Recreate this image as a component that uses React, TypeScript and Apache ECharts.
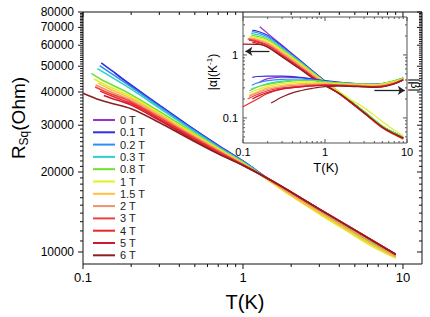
import React, { useEffect, useRef } from 'react';
import * as echarts from 'echarts';

const FIELDS = ['0 T', '0.1 T', '0.2 T', '0.3 T', '0.8 T', '1 T', '1.5 T', '2 T', '3 T', '4 T', '5 T', '6 T'];
const COLORS = ['#9b30d0', '#3030e0', '#2e8ff0', '#30d0c8', '#70e030', '#e0f020', '#ffc040', '#f09070', '#f04040', '#e82828', '#d01830', '#8b2020'];

// Main panel: sheet resistance R (Ohm) vs T (K), pairs [T, R]
const R_0T = [[0.158, 47200], [0.2, 42300], [0.3, 35600], [0.45, 30000], [0.7, 25200], [1, 21950], [1.5, 18500], [2, 16580], [3, 14280], [4.5, 12320], [6.5, 10770], [9, 9560]];
const R_01T = [[0.13, 51500], [0.15, 48300], [0.2, 42500], [0.3, 35700], [0.45, 30100], [0.7, 25200], [1, 22000], [1.5, 18520], [2, 16600], [3, 14300], [4.5, 12350], [6.5, 10800], [9, 9620]];
const R_02T = [[0.127, 50300], [0.15, 47000], [0.2, 41800], [0.3, 35300], [0.45, 29800], [0.7, 25000], [1, 21900], [1.5, 18500], [2, 16600], [3, 14300], [4.5, 12340], [6.5, 10800], [9, 9620]];
const R_03T = [[0.123, 49000], [0.15, 45600], [0.2, 41000], [0.3, 34800], [0.45, 29500], [0.7, 24800], [1, 21800], [1.5, 18480], [2, 16580], [3, 14280], [4.5, 12330], [6.5, 10790], [9, 9610]];
const R_08T = [[0.113, 47000], [0.13, 44600], [0.15, 42700], [0.2, 39100], [0.3, 33800], [0.45, 29000], [0.7, 24600], [1, 21700], [1.5, 18450], [2, 16500], [3, 14200], [4.5, 12250], [6.5, 10750], [9, 9600]];
const R_1T = [[0.117, 44800], [0.15, 41600], [0.2, 38400], [0.3, 33300], [0.45, 28700], [0.7, 24500], [1, 21600], [1.5, 18300], [2, 16250], [3, 13900], [4.5, 11950], [6.5, 10450], [9, 9480]];
const R_15T = [[0.124, 43200], [0.15, 40800], [0.2, 37800], [0.3, 32900], [0.45, 28400], [0.7, 24300], [1, 21500], [1.5, 18350], [2, 16350], [3, 14050], [4.5, 12100], [6.5, 10600], [9, 9550]];
const R_2T = [[0.12, 42500], [0.15, 40000], [0.2, 37200], [0.3, 32500], [0.45, 28100], [0.7, 24100], [1, 21400], [1.5, 18450], [2, 16550], [3, 14300], [4.5, 12350], [6.5, 10850], [9, 9650]];
const R_3T = [[0.119, 41800], [0.15, 39300], [0.2, 36700], [0.3, 32100], [0.45, 27800], [0.7, 23900], [1, 21300], [1.5, 18600], [2, 16800], [3, 14500], [4.5, 12550], [6.5, 11000], [9, 9780]];
const R_4T = [[0.128, 40300], [0.15, 38700], [0.2, 36200], [0.3, 31700], [0.45, 27500], [0.7, 23700], [1, 21250], [1.5, 18620], [2, 16820], [3, 14520], [4.5, 12570], [6.5, 11020], [9, 9800]];
const R_5T = [[0.135, 38800], [0.15, 37900], [0.2, 35700], [0.3, 31300], [0.45, 27200], [0.7, 23500], [1, 21200], [1.5, 18600], [2, 16800], [3, 14500], [4.5, 12560], [6.5, 11010], [9, 9790]];
const R_6T = [[0.1, 39600], [0.128, 37300], [0.15, 36300], [0.2, 34600], [0.3, 30700], [0.45, 26900], [0.7, 23400], [1, 21150], [1.5, 18580], [2, 16780], [3, 14480], [4.5, 12540], [6.5, 11000], [9, 9800]];
const MAIN = [R_0T, R_01T, R_02T, R_03T, R_08T, R_1T, R_15T, R_2T, R_3T, R_4T, R_5T, R_6T];

// Inset: |alpha| (K^-1) vs T, pairs [T, alpha]
const A_0T = [[0.16, 2.8], [0.2, 2.2], [0.3, 1.42], [0.5, 0.82], [0.7, 0.56], [1, 0.385], [1.5, 0.255], [2, 0.19], [3, 0.125], [5, 0.073], [7, 0.057], [9, 0.048]];
const A_01T = [[0.13, 2.45], [0.15, 2.38], [0.2, 2.05], [0.3, 1.38], [0.5, 0.81], [0.7, 0.56], [1, 0.385], [1.5, 0.255], [2, 0.19], [3, 0.125], [5, 0.073], [7, 0.058], [9, 0.049]];
const A_02T = [[0.128, 2.35], [0.15, 2.25], [0.2, 1.95], [0.3, 1.33], [0.5, 0.79], [0.7, 0.55], [1, 0.38], [1.5, 0.253], [2, 0.19], [3, 0.125], [5, 0.073], [7, 0.058], [9, 0.049]];
const A_03T = [[0.125, 2.2], [0.15, 2.1], [0.2, 1.85], [0.3, 1.28], [0.5, 0.77], [0.7, 0.54], [1, 0.375], [1.5, 0.252], [2, 0.19], [3, 0.126], [5, 0.074], [7, 0.058], [9, 0.049]];
const A_08T = [[0.126, 2.04], [0.15, 1.97], [0.2, 1.75], [0.3, 1.22], [0.5, 0.75], [0.7, 0.53], [1, 0.37], [1.5, 0.25], [2, 0.19], [3, 0.128], [5, 0.075], [7, 0.058], [9, 0.049]];
const A_1T = [[0.12, 1.95], [0.15, 1.88], [0.2, 1.67], [0.3, 1.18], [0.5, 0.73], [0.7, 0.52], [1, 0.37], [1.5, 0.26], [2, 0.2], [3, 0.145], [5, 0.088], [7, 0.064], [9, 0.052]];
const A_15T = [[0.12, 1.86], [0.15, 1.78], [0.2, 1.58], [0.3, 1.12], [0.5, 0.7], [0.7, 0.5], [1, 0.36], [1.5, 0.245], [2, 0.183], [3, 0.12], [5, 0.07], [7, 0.055], [9, 0.046]];
const A_2T = [[0.118, 1.82], [0.15, 1.72], [0.2, 1.52], [0.3, 1.07], [0.5, 0.67], [0.7, 0.48], [1, 0.35], [1.5, 0.24], [2, 0.18], [3, 0.118], [5, 0.069], [7, 0.054], [9, 0.046]];
const A_3T = [[0.114, 1.8], [0.15, 1.66], [0.2, 1.45], [0.3, 1.02], [0.5, 0.64], [0.7, 0.46], [1, 0.34], [1.5, 0.24], [2, 0.18], [3, 0.119], [5, 0.07], [7, 0.055], [9, 0.047]];
const A_4T = [[0.118, 1.72], [0.15, 1.6], [0.2, 1.4], [0.3, 0.98], [0.5, 0.62], [0.7, 0.45], [1, 0.335], [1.5, 0.24], [2, 0.181], [3, 0.12], [5, 0.071], [7, 0.055], [9, 0.047]];
const A_5T = [[0.13, 1.58], [0.15, 1.52], [0.2, 1.34], [0.3, 0.95], [0.5, 0.6], [0.7, 0.44], [1, 0.33], [1.5, 0.242], [2, 0.183], [3, 0.121], [5, 0.071], [7, 0.056], [9, 0.048]];
const A_6T = [[0.1, 1.48], [0.15, 1.47], [0.17, 1.45], [0.2, 1.32], [0.3, 0.93], [0.5, 0.59], [0.7, 0.43], [1, 0.325], [1.5, 0.245], [2, 0.185], [3, 0.122], [5, 0.072], [7, 0.056], [9, 0.048]];
const ALPHA = [A_0T, A_01T, A_02T, A_03T, A_08T, A_1T, A_15T, A_2T, A_3T, A_4T, A_5T, A_6T];

// Inset: |beta| vs T, pairs [T, beta]
const B_0T = [[0.16, 0.37], [0.2, 0.42], [0.3, 0.445], [0.5, 0.435], [0.7, 0.41], [1, 0.385], [1.5, 0.365], [2, 0.355], [3, 0.345], [4, 0.342], [5, 0.35], [7, 0.385], [9, 0.43]];
const B_01T = [[0.13, 0.44], [0.15, 0.455], [0.2, 0.46], [0.3, 0.46], [0.5, 0.44], [0.7, 0.415], [1, 0.39], [1.5, 0.37], [2, 0.358], [3, 0.347], [4, 0.343], [5, 0.35], [7, 0.385], [9, 0.43]];
const B_02T = [[0.128, 0.33], [0.15, 0.36], [0.2, 0.39], [0.3, 0.41], [0.5, 0.415], [0.7, 0.4], [1, 0.38], [1.5, 0.36], [2, 0.352], [3, 0.343], [4, 0.34], [5, 0.348], [7, 0.38], [9, 0.425]];
const B_03T = [[0.12, 0.27], [0.15, 0.31], [0.2, 0.35], [0.3, 0.385], [0.5, 0.4], [0.7, 0.395], [1, 0.378], [1.5, 0.36], [2, 0.352], [3, 0.344], [4, 0.341], [5, 0.349], [7, 0.385], [9, 0.43]];
const B_08T = [[0.126, 0.29], [0.15, 0.31], [0.2, 0.34], [0.3, 0.37], [0.5, 0.39], [0.7, 0.39], [1, 0.375], [1.5, 0.36], [2, 0.353], [3, 0.345], [4, 0.342], [5, 0.35], [7, 0.39], [9, 0.435]];
const B_1T = [[0.12, 0.25], [0.15, 0.28], [0.2, 0.32], [0.3, 0.35], [0.5, 0.37], [0.7, 0.37], [1, 0.36], [1.5, 0.35], [2, 0.345], [3, 0.34], [4, 0.338], [5, 0.345], [7, 0.38], [9, 0.42]];
const B_15T = [[0.12, 0.23], [0.15, 0.26], [0.2, 0.3], [0.3, 0.33], [0.5, 0.35], [0.7, 0.355], [1, 0.35], [1.5, 0.34], [2, 0.335], [3, 0.33], [4, 0.33], [5, 0.335], [7, 0.37], [9, 0.415]];
const B_2T = [[0.118, 0.22], [0.15, 0.25], [0.2, 0.285], [0.3, 0.315], [0.5, 0.335], [0.7, 0.34], [1, 0.34], [1.5, 0.335], [2, 0.33], [3, 0.325], [4, 0.32], [5, 0.325], [7, 0.36], [9, 0.41]];
const B_3T = [[0.114, 0.2], [0.15, 0.235], [0.2, 0.27], [0.3, 0.3], [0.5, 0.32], [0.7, 0.33], [1, 0.335], [1.5, 0.33], [2, 0.325], [3, 0.318], [4, 0.315], [5, 0.32], [7, 0.355], [9, 0.405]];
const B_4T = [[0.1, 0.15], [0.15, 0.2], [0.2, 0.245], [0.3, 0.285], [0.5, 0.31], [0.7, 0.322], [1, 0.33], [1.5, 0.328], [2, 0.322], [3, 0.315], [4, 0.31], [5, 0.315], [7, 0.35], [9, 0.4]];
const B_5T = [[0.13, 0.2], [0.15, 0.22], [0.2, 0.255], [0.3, 0.29], [0.5, 0.312], [0.7, 0.322], [1, 0.33], [1.5, 0.327], [2, 0.321], [3, 0.314], [4, 0.31], [5, 0.316], [7, 0.352], [9, 0.402]];
const B_6T = [[0.22, 0.172], [0.3, 0.215], [0.4, 0.25], [0.5, 0.27], [0.7, 0.295], [1, 0.315], [1.5, 0.32], [2, 0.318], [3, 0.31], [4, 0.305], [5, 0.31], [7, 0.345], [9, 0.4]];
const BETA = [B_0T, B_01T, B_02T, B_03T, B_08T, B_1T, B_15T, B_2T, B_3T, B_4T, B_5T, B_6T];

// Arrows in inset, pairs [T, value]
const ARROW_ALPHA = [[0.21, 1.14], [0.107, 1.14]];
const ARROW_BETA = [[4.0, 0.273], [9.4, 0.273]];

// Tick values and labels
const MAIN_X_MAJOR = [0.1, 1, 10];
const MAIN_X_LABELS = ['0.1', '1', '10'];
const MAIN_X_MINOR = [0.2, 0.3, 0.4, 0.5, 0.6, 0.7, 0.8, 0.9, 2, 3, 4, 5, 6, 7, 8, 9];
const MAIN_Y_MAJOR = [10000, 20000, 30000, 40000, 50000, 60000, 70000, 80000];
const MAIN_Y_LABELS = ['10000', '20000', '30000', '40000', '50000', '60000', '70000', '80000'];
const MAIN_Y_MINOR: number[] = [];
for (let v = 11000; v < 80000; v += 1000) if (v % 10000 !== 0) MAIN_Y_MINOR.push(v);
const INSET_X_MAJOR = [0.1, 1, 10];
const INSET_X_LABELS = ['0.1', '1', '10'];
const INSET_X_MINOR = [0.2, 0.3, 0.4, 0.5, 0.6, 0.7, 0.8, 0.9, 2, 3, 4, 5, 6, 7, 8, 9];
const INSET_Y_MAJOR = [0.1, 1];
const INSET_Y_LABELS = ['0.1', '1'];
const INSET_Y_MINOR = [0.05, 0.06, 0.07, 0.08, 0.09, 0.2, 0.3, 0.4, 0.5, 0.6, 0.7, 0.8, 0.9, 2, 3];

const FONT = '"Liberation Sans", Arial, Helvetica, sans-serif';

type TickCfg = { maj: number; min: number; outPrimary: boolean; gap: number; fontSize: number; color: string };

function tickSeries(xi: number, yi: number, axis: 'x' | 'y', major: number[], labels: string[], minor: number[], ref: number, cfg: TickCfg) {
  const data = [
    ...major.map((v, i) => (axis === 'x' ? [v, ref, i] : [ref, v, i])),
    ...minor.map((v) => (axis === 'x' ? [v, ref, -1] : [ref, v, -1])),
  ];
  return {
    type: 'custom',
    xAxisIndex: xi,
    yAxisIndex: yi,
    silent: true,
    z: 6,
    data,
    renderItem: (params: any, api: any) => {
      const cs = params.coordSys;
      const li = api.value(2);
      const isMaj = li >= 0;
      const len = isMaj ? cfg.maj : cfg.min;
      const ln = (x1: number, y1: number, x2: number, y2: number) => ({
        type: 'line',
        shape: { x1, y1, x2, y2 },
        style: { stroke: cfg.color, lineWidth: 1 },
      });
      const children: any[] = [];
      if (axis === 'x') {
        const px = api.coord([api.value(0), api.value(1)])[0];
        const b = cs.y + cs.height;
        const t = cs.y;
        children.push(ln(px, b, px, cfg.outPrimary ? b + len : b - len));
        children.push(ln(px, t, px, t + len));
        if (isMaj) {
          children.push({
            type: 'text',
            x: px,
            y: b + cfg.gap,
            style: { text: labels[li], fill: '#000', fontSize: cfg.fontSize, fontFamily: FONT, align: 'center', verticalAlign: 'top' },
          });
        }
      } else {
        const py = api.coord([api.value(0), api.value(1)])[1];
        const l = cs.x;
        const r = cs.x + cs.width;
        children.push(ln(l, py, cfg.outPrimary ? l - len : l + len, py));
        children.push(ln(r, py, r - len, py));
        if (isMaj) {
          children.push({
            type: 'text',
            x: l - cfg.gap,
            y: py,
            style: { text: labels[li], fill: '#000', fontSize: cfg.fontSize, fontFamily: FONT, align: 'right', verticalAlign: 'middle' },
          });
        }
      }
      return { type: 'group', children };
    },
  };
}

function buildOption() {
  const mainSeries = MAIN.map((d, i) => ({
    name: FIELDS[i],
    type: 'line',
    xAxisIndex: 0,
    yAxisIndex: 0,
    data: d,
    symbol: 'none',
    smooth: 0.35,
    lineStyle: { color: COLORS[i], width: 1.6 },
    itemStyle: { color: COLORS[i] },
    z: 3,
  }));
  const alphaSeries = ALPHA.map((d, i) => ({
    name: FIELDS[i],
    type: 'line',
    xAxisIndex: 1,
    yAxisIndex: 1,
    data: d,
    symbol: 'none',
    smooth: 0.35,
    lineStyle: { color: COLORS[i], width: 1.2 },
    itemStyle: { color: COLORS[i] },
    z: 4,
  }));
  const betaSeries = BETA.map((d, i) => ({
    name: FIELDS[i],
    type: 'line',
    xAxisIndex: 1,
    yAxisIndex: 1,
    data: d,
    symbol: 'none',
    smooth: 0.35,
    lineStyle: { color: COLORS[i], width: 1.2 },
    itemStyle: { color: COLORS[i] },
    z: 4,
  }));
  const arrowSeries = {
    type: 'line',
    xAxisIndex: 1,
    yAxisIndex: 1,
    data: [],
    symbol: 'none',
    silent: true,
    z: 5,
    markLine: {
      silent: true,
      symbol: ['none', 'arrow'],
      symbolSize: [7, 7],
      label: { show: false },
      lineStyle: { color: '#222', width: 1.3, type: 'solid' },
      data: [
        [{ coord: ARROW_ALPHA[0] }, { coord: ARROW_ALPHA[1] }],
        [{ coord: ARROW_BETA[0] }, { coord: ARROW_BETA[1] }],
      ],
    },
  };

  const axisCommon = {
    axisLine: { show: false },
    axisTick: { show: false },
    axisLabel: { show: false },
    splitLine: { show: false },
    minorTick: { show: false },
  };

  return {
    animation: false,
    backgroundColor: '#fff',
    textStyle: { fontFamily: FONT },
    grid: [
      { left: 83, right: 8, top: 12, bottom: 53, show: true, borderColor: '#111', borderWidth: 1, backgroundColor: 'transparent' },
      { left: 243, right: 23, top: 17, bottom: 174, show: true, borderColor: '#555', borderWidth: 1, backgroundColor: '#fff', z: 2 },
    ],
    xAxis: [
      { type: 'log', gridIndex: 0, min: 0.1, max: 13.15, ...axisCommon },
      { type: 'log', gridIndex: 1, min: 0.1, max: 10, ...axisCommon },
    ],
    yAxis: [
      { type: 'log', gridIndex: 0, min: 9010, max: 80000, ...axisCommon },
      { type: 'log', gridIndex: 1, min: 0.04, max: 4, ...axisCommon },
    ],
    legend: {
      orient: 'vertical',
      left: 93,
      top: 114.5,
      padding: 0,
      icon: 'rect',
      itemWidth: 22,
      itemHeight: 2,
      itemGap: 1.3,
      textStyle: { fontSize: 11, color: '#222', fontFamily: FONT },
      data: FIELDS,
      selectedMode: false,
    },
    graphic: [
      {
        type: 'text',
        x: 245,
        y: 302,
        style: { text: 'T(K)', fill: '#000', fontSize: 20, fontFamily: FONT, align: 'center', verticalAlign: 'middle' },
      },
      {
        type: 'text',
        x: 18,
        y: 118,
        rotation: Math.PI / 2,
        style: {
          text: '{a|R}{b|Sq}{a|(Ohm)}',
          fill: '#000',
          align: 'center',
          verticalAlign: 'middle',
          rich: {
            a: { fontSize: 19, fontFamily: FONT, fill: '#000' },
            b: { fontSize: 12, fontFamily: FONT, fill: '#000', padding: [11, 0, 0, 0] },
          },
        },
      },
      {
        type: 'text',
        x: 326,
        y: 167,
        style: { text: 'T(K)', fill: '#000', fontSize: 13, fontFamily: FONT, align: 'center', verticalAlign: 'middle' },
      },
      {
        type: 'text',
        x: 213,
        y: 72,
        rotation: Math.PI / 2,
        style: {
          text: '{a||α|(K}{s|-1}{a|)}',
          fill: '#000',
          align: 'center',
          verticalAlign: 'middle',
          rich: {
            a: { fontSize: 12, fontFamily: FONT, fill: '#000' },
            s: { fontSize: 8, fontFamily: FONT, fill: '#000', padding: [0, 0, 8, 0] },
          },
        },
      },
      {
        type: 'text',
        x: 415,
        y: 85,
        rotation: -Math.PI / 2,
        style: { text: '|β|', fill: '#000', fontSize: 12, fontFamily: FONT, align: 'center', verticalAlign: 'middle' },
      },
    ],
    series: [
      ...mainSeries,
      ...alphaSeries,
      ...betaSeries,
      arrowSeries,
      tickSeries(0, 0, 'x', MAIN_X_MAJOR, MAIN_X_LABELS, MAIN_X_MINOR, 20000, { maj: 5, min: 3, outPrimary: true, gap: 7, fontSize: 13, color: '#111' }),
      tickSeries(0, 0, 'y', MAIN_Y_MAJOR, MAIN_Y_LABELS, MAIN_Y_MINOR, 1, { maj: 5, min: 3, outPrimary: true, gap: 9, fontSize: 12, color: '#111' }),
      tickSeries(1, 1, 'x', INSET_X_MAJOR, INSET_X_LABELS, INSET_X_MINOR, 0.5, { maj: 4, min: 2, outPrimary: false, gap: 3, fontSize: 11, color: '#555' }),
      tickSeries(1, 1, 'y', INSET_Y_MAJOR, INSET_Y_LABELS, INSET_Y_MINOR, 1, { maj: 4, min: 2, outPrimary: false, gap: 5, fontSize: 11, color: '#555' }),
    ],
  };
}

export default function App() {
  const ref = useRef<HTMLDivElement>(null);
  useEffect(() => {
    if (!ref.current) return;
    const chart = echarts.init(ref.current, null, { renderer: 'svg' });
    chart.setOption(buildOption() as any);
    return () => chart.dispose();
  }, []);
  return <div ref={ref} style={{ position: 'fixed', left: 0, top: 0, width: 430, height: 317, background: '#fff' }} />;
}
